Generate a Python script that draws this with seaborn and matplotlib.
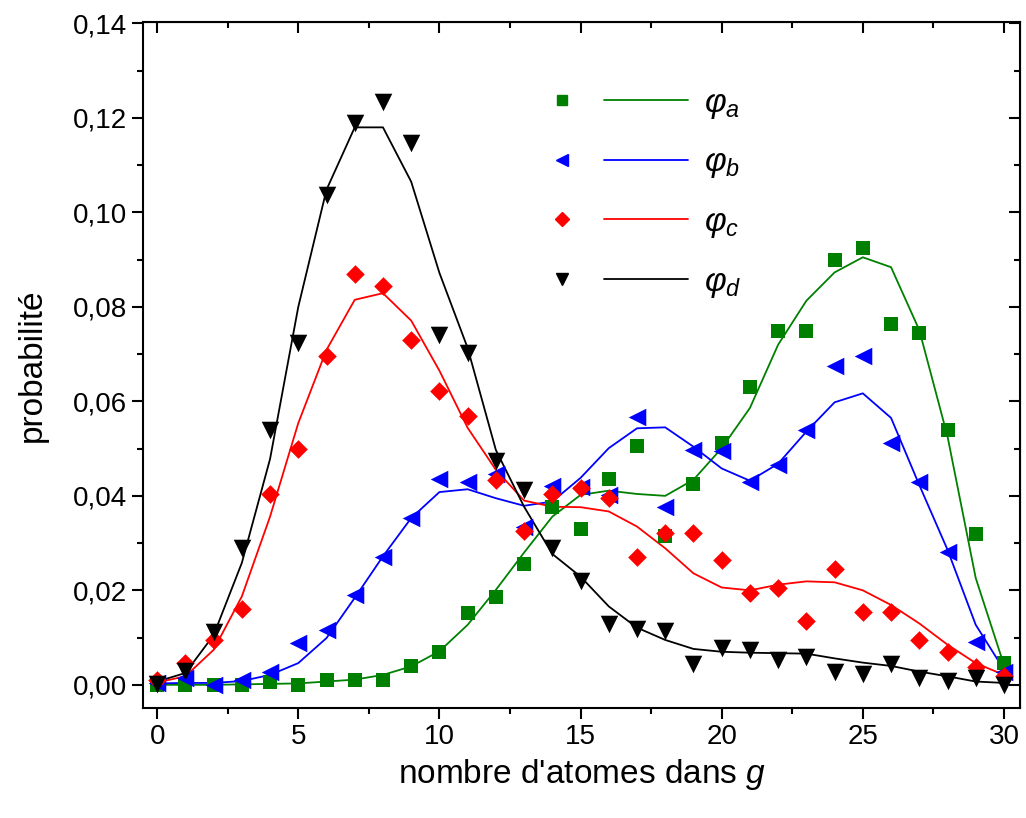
import matplotlib
matplotlib.use("Agg")
import matplotlib.pyplot as plt
from matplotlib.legend_handler import HandlerTuple
from matplotlib.lines import Line2D
from matplotlib.ticker import MultipleLocator, FuncFormatter
import seaborn as sns
import numpy as np

# number of atoms in g
n_atoms = list(range(31))

# simulated points (markers)
phi_a_pts = [0.0, 0.0, 0.0, 0.0, 0.0005, 0.0, 0.001, 0.001, 0.001, 0.004, 0.007,
             0.0152, 0.0186, 0.0255, 0.0376, 0.033, 0.0435, 0.0506, 0.0315, 0.0425, 0.0512,
             0.063, 0.075, 0.075, 0.090, 0.0924, 0.0764, 0.0744, 0.054, 0.032, 0.0046]
phi_b_pts = [0.0003, 0.0015, 0.0, 0.001, 0.0028, 0.0088, 0.0116, 0.019, 0.027, 0.0353, 0.0436,
             0.043, 0.0447, 0.0335, 0.0421, 0.0418, 0.0402, 0.0567, 0.0376, 0.0497, 0.0494,
             0.043, 0.0466, 0.054, 0.0675, 0.0695, 0.0512, 0.043, 0.0282, 0.009, 0.0028]
phi_c_pts = [0.001, 0.0046, 0.0095, 0.016, 0.0404, 0.050, 0.0695, 0.087, 0.0845, 0.073, 0.0621,
             0.0569, 0.0434, 0.0325, 0.0404, 0.0416, 0.0395, 0.027, 0.0322, 0.0322, 0.0265,
             0.0195, 0.0205, 0.0136, 0.0245, 0.0155, 0.0155, 0.0095, 0.007, 0.0037, 0.0018]
phi_d_pts = [0.0002, 0.003, 0.0112, 0.029, 0.054, 0.0724, 0.1037, 0.1189, 0.1233, 0.1147, 0.0741,
             0.0703, 0.0473, 0.0413, 0.029, 0.0219, 0.0129, 0.0119, 0.0113, 0.0044, 0.0078,
             0.0073, 0.0053, 0.0058, 0.0028, 0.0023, 0.0044, 0.0014, 0.0009, 0.0014, 0.0]

# model curves (lines)
phi_a_fit = [0.0, 0.0, 0.0, 0.0001, 0.0002, 0.0003, 0.0007, 0.0011, 0.0021, 0.0039, 0.0071,
             0.0127, 0.0201, 0.028, 0.0356, 0.0402, 0.0411, 0.0404, 0.040, 0.0434, 0.0501,
             0.0586, 0.072, 0.0813, 0.0873, 0.0905, 0.0884, 0.0751, 0.0526, 0.0226, 0.0042]
phi_b_fit = [0.0003, 0.0004, 0.0004, 0.0008, 0.0021, 0.0046, 0.0099, 0.0184, 0.0272, 0.0353, 0.0408,
             0.0414, 0.0395, 0.0379, 0.0388, 0.0438, 0.0501, 0.0543, 0.0545, 0.0504, 0.0458,
             0.0432, 0.0468, 0.0536, 0.0598, 0.0617, 0.0565, 0.0423, 0.0286, 0.0127, 0.0032]
phi_c_fit = [0.0005, 0.0018, 0.0074, 0.0187, 0.0356, 0.0554, 0.0709, 0.0815, 0.0829, 0.0771, 0.0665,
             0.0544, 0.0455, 0.039, 0.0377, 0.0376, 0.0367, 0.0335, 0.0289, 0.0236, 0.0206,
             0.020, 0.0212, 0.0219, 0.0217, 0.020, 0.0169, 0.013, 0.0085, 0.0046, 0.0021]
phi_d_fit = [0.0007, 0.0025, 0.0105, 0.0258, 0.0478, 0.080, 0.1048, 0.118, 0.118, 0.1065, 0.0872,
             0.0713, 0.0497, 0.0377, 0.0277, 0.0229, 0.0166, 0.0121, 0.0095, 0.0076, 0.007,
             0.0068, 0.0067, 0.0066, 0.0056, 0.0047, 0.004, 0.0028, 0.0018, 0.0007, 0.0004]

labels = [r"$\varphi_a$", r"$\varphi_b$", r"$\varphi_c$", r"$\varphi_d$"]
colors = ["#008000", "#0000ff", "#ff0000", "#000000"]
markers = ["s", "<", "D", "v"]
sizes = [100, 160, 90, 160]

sns.set_style("ticks")
plt.rcParams["font.family"] = ["Liberation Sans", "DejaVu Sans"]
plt.rcParams["mathtext.fontset"] = "custom"
plt.rcParams["mathtext.rm"] = "Liberation Sans"
plt.rcParams["mathtext.it"] = "Liberation Sans:italic"
plt.rcParams["text.color"] = "black"
plt.rcParams["axes.labelcolor"] = "black"
plt.rcParams["xtick.color"] = "black"
plt.rcParams["ytick.color"] = "black"

fig = plt.figure(figsize=(10.26, 8.18), dpi=100)
ax = fig.add_axes([0.1394, 0.1345, 0.9942 - 0.1394, 0.9731 - 0.1345])

series_pts = [phi_a_pts, phi_b_pts, phi_c_pts, phi_d_pts]
series_fit = [phi_a_fit, phi_b_fit, phi_c_fit, phi_d_fit]

handles = []
for pts, fit, c, m, s in zip(series_pts, series_fit, colors, markers, sizes):
    sns.lineplot(x=n_atoms, y=fit, color=c, linewidth=1.3, ax=ax)
    sns.scatterplot(x=n_atoms, y=pts, color=c, marker=m, s=s, linewidth=0, ax=ax, zorder=3)
    mk = Line2D([], [], color=c, marker=m, linestyle="none", markersize=np.sqrt(s) * 0.72)
    ln = Line2D([], [], color=c, linewidth=1.3)
    handles.append((mk, ln))

ax.legend(handles, labels, handler_map={tuple: HandlerTuple(ndivide=2, pad=0.0)},
          handlelength=5.05, handletextpad=0.5, labelspacing=0.8, fontsize=24,
          frameon=False, loc="upper left", bbox_to_anchor=(0.395, 0.948))

ax.set_xlim(-0.5, 30.57)
ax.set_ylim(-0.0049, 0.1403)
ax.xaxis.set_major_locator(MultipleLocator(5))
ax.xaxis.set_minor_locator(MultipleLocator(2.5))
ax.yaxis.set_major_locator(MultipleLocator(0.02))
ax.yaxis.set_minor_locator(MultipleLocator(0.01))
ax.yaxis.set_major_formatter(FuncFormatter(lambda v, p: f"{v:.2f}".replace(".", ",")))

for side in ["top", "right", "left", "bottom"]:
    ax.spines[side].set_visible(True)
    ax.spines[side].set_linewidth(1.5)
    ax.spines[side].set_color("black")

ax.tick_params(which="both", direction="out", labelsize=20, width=1.5, color="black")
ax.tick_params(which="major", length=8)
ax.tick_params(which="minor", length=4.5)

# inward ticks on top and right
axt = ax.secondary_xaxis("top")
axt.xaxis.set_major_locator(MultipleLocator(5))
axt.xaxis.set_minor_locator(MultipleLocator(2.5))
axt.tick_params(which="both", direction="in", labeltop=False, width=1.5)
axt.tick_params(which="major", length=8)
axt.tick_params(which="minor", length=4.5)
axr = ax.secondary_yaxis("right")
axr.yaxis.set_major_locator(MultipleLocator(0.02))
axr.yaxis.set_minor_locator(MultipleLocator(0.01))
axr.tick_params(which="both", direction="in", labelright=False, width=1.5)
axr.tick_params(which="major", length=8)
axr.tick_params(which="minor", length=4.5)

ax.set_xlabel("nombre d'atomes dans $g$", fontsize=24, labelpad=5)
ax.set_ylabel("probabilité", fontsize=24, labelpad=18)

fig.savefig("out.png", dpi=100)
